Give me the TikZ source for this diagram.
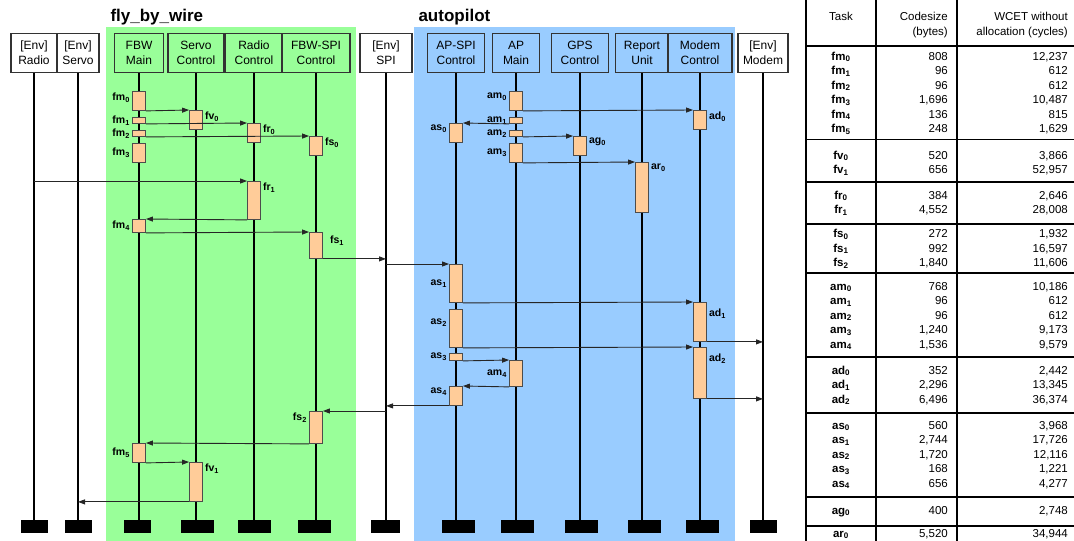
\documentclass[tikz,border=0pt]{standalone}
\usepackage{fontspec}
\setmainfont{Liberation Sans}
\usetikzlibrary{arrows.meta, positioning}

\definecolor{fbwgreen}{HTML}{99FF99}
\definecolor{apblue}{HTML}{99CCFF}
\definecolor{taskfill}{HTML}{FFCC99}
\definecolor{edge}{HTML}{333333}

\tikzset{
  hdr/.style={draw=edge, line width=1.2pt, minimum height=39pt, inner sep=0pt,
    align=center, anchor=north, font=\fontsize{12}{15}\selectfont},
  envhdr/.style={hdr, fill=white},
  fbwhdr/.style={hdr, fill=fbwgreen},
  aphdr/.style={hdr, fill=apblue},
  lifeend/.style={fill=black, minimum height=13pt, inner sep=0pt, anchor=north},
  life/.style={line width=2pt},
  act/.style={draw=black!70, fill=taskfill, line width=0.9pt, minimum width=13pt,
    inner sep=0pt, anchor=north},
  lbl/.style={font=\fontsize{10.5}{12}\selectfont\bfseries, inner sep=2pt},
  msg/.style={draw=black!85, line width=0.9pt, -{Triangle[length=7pt,width=5pt]}},
  grouptitle/.style={anchor=base west, font=\fontsize{17}{20}\selectfont\bfseries},
  tblline/.style={line width=1.2pt},
  tbltxt/.style={font=\fontsize{11.5}{14}\selectfont, inner sep=0pt,
    text height=8.5pt, text depth=2.5pt},
  tbltask/.style={tbltxt, font=\fontsize{11.5}{14}\selectfont\bfseries}
}

\begin{document}
\begin{tikzpicture}[x=1pt, y=-1pt]
\useasboundingbox (0,0) rectangle (1074,541);

% the two partitions
\fill[fbwgreen] (106,27) rectangle (356,541);
\fill[apblue] (414,27) rectangle (735,541);
\node[grouptitle] (fbwtitle) at (107,21) {fly\_by\_wire};
\node[grouptitle] (aptitle) at (415,21) {autopilot};

% lifeline heads
\node[envhdr, minimum width=46pt] (eradio) at (34,33) {[Env]\\Radio};
\node[envhdr, minimum width=42pt] (eservo) at (78,33) {[Env]\\Servo};
\node[fbwhdr, minimum width=49pt] (fbwmain) at (139,33) {FBW\\Main};
\node[fbwhdr, minimum width=56pt] (servo) at (196,33) {Servo\\Control};
\node[fbwhdr, minimum width=57pt] (radio) at (254,33) {Radio\\Control};
\node[fbwhdr, minimum width=68pt] (fbwspi) at (316,33) {FBW-SPI\\Control};
\node[envhdr, minimum width=52pt] (espi) at (386,33) {[Env]\\SPI};
\node[aphdr, minimum width=57pt] (apspi) at (456,33) {AP-SPI\\Control};
\node[aphdr, minimum width=47pt] (apmain) at (516,33) {AP\\Main};
\node[aphdr, minimum width=57pt] (gps) at (580,33) {GPS\\Control};
\node[aphdr, minimum width=53pt] (report) at (642,33) {Report\\Unit};
\node[aphdr, minimum width=64pt] (modem) at (700,33) {Modem\\Control};
\node[envhdr, minimum width=50pt] (emodem) at (763,33) {[Env]\\Modem};

% lifeline ends
\node[lifeend, minimum width=27pt] (eradio-b) at (34,520) {};
\node[lifeend, minimum width=27pt] (eservo-b) at (78,520) {};
\node[lifeend, minimum width=27pt] (fbwmain-b) at (137,520) {};
\node[lifeend, minimum width=33pt] (servo-b) at (197,520) {};
\node[lifeend, minimum width=33pt] (radio-b) at (254,520) {};
\node[lifeend, minimum width=33pt] (fbwspi-b) at (314,520) {};
\node[lifeend, minimum width=29pt] (espi-b) at (385,520) {};
\node[lifeend, minimum width=33pt] (apspi-b) at (458,520) {};
\node[lifeend, minimum width=33pt] (apmain-b) at (517,520) {};
\node[lifeend, minimum width=33pt] (gps-b) at (581,520) {};
\node[lifeend, minimum width=33pt] (report-b) at (644,520) {};
\node[lifeend, minimum width=33pt] (modem-b) at (702,520) {};
\node[lifeend, minimum width=27pt] (emodem-b) at (763,520) {};

\foreach \n in {eradio,eservo,fbwmain,servo,radio,fbwspi,espi,apspi,apmain,gps,report,modem,emodem}
  \draw[life] (\n.south) -- (\n.south |- \n-b.north);

% fly_by_wire tasks
\node[act, minimum height=19pt, label={[lbl,anchor=north east]north west:fm\textsubscript{0}}] (fm0) at (fbwmain |- 0,91) {};
\node[act, minimum height=6pt, label={[lbl]left:fm\textsubscript{1}}] (fm1) at (fbwmain |- 0,117) {};
\node[act, minimum height=6pt, label={[lbl]left:fm\textsubscript{2}}] (fm2) at (fbwmain |- 0,130) {};
\node[act, minimum height=19pt, label={[lbl]left:fm\textsubscript{3}}] (fm3) at (fbwmain |- 0,143) {};
\node[act, minimum height=13pt, label={[lbl]left:fm\textsubscript{4}}] (fm4) at (fbwmain |- 0,219) {};
\node[act, minimum height=19pt, label={[lbl]left:fm\textsubscript{5}}] (fm5) at (fbwmain |- 0,443) {};
\node[act, minimum height=19pt, label={[lbl,anchor=north west]north east:fv\textsubscript{0}}] (fv0) at (servo |- 0,110) {};
\node[act, minimum height=39pt, label={[lbl,anchor=north west]north east:fv\textsubscript{1}}] (fv1) at (servo |- 0,462) {};
\node[act, minimum height=19pt, label={[lbl,anchor=north west]north east:fr\textsubscript{0}}] (fr0) at (radio |- 0,123) {};
\node[act, minimum height=38pt, label={[lbl,anchor=north west]north east:fr\textsubscript{1}}] (fr1) at (radio |- 0,181) {};
\node[act, minimum height=19pt, label={[lbl,anchor=north west]north east:fs\textsubscript{0}}] (fs0) at (fbwspi |- 0,136) {};
\node[act, minimum height=26pt, label={[lbl,anchor=north west,xshift=5pt,yshift=-2pt]north east:fs\textsubscript{1}}] (fs1) at (fbwspi |- 0,232) {};
\node[act, minimum height=32pt, label={[lbl,anchor=north east]north west:fs\textsubscript{2}}] (fs2) at (fbwspi |- 0,411) {};

% autopilot tasks
\node[act, minimum height=19pt, label={[lbl,anchor=north east]north west:am\textsubscript{0}}] (am0) at (apmain |- 0,91) {};
\node[act, minimum height=6pt, label={[lbl]left:am\textsubscript{1}}] (am1) at (apmain |- 0,117) {};
\node[act, minimum height=6pt, label={[lbl]left:am\textsubscript{2}}] (am2) at (apmain |- 0,130) {};
\node[act, minimum height=19pt, label={[lbl]left:am\textsubscript{3}}] (am3) at (apmain |- 0,143) {};
\node[act, minimum height=26pt, label={[lbl]left:am\textsubscript{4}}] (am4) at (apmain |- 0,360) {};
\node[act, minimum height=19pt, label={[lbl,anchor=north east]north west:as\textsubscript{0}}] (as0) at (apspi |- 0,123) {};
\node[act, minimum height=38pt, label={[lbl]left:as\textsubscript{1}}] (as1) at (apspi |- 0,264) {};
\node[act, minimum height=38pt, label={[lbl,yshift=6pt]left:as\textsubscript{2}}] (as2) at (apspi |- 0,309) {};
\node[act, minimum height=7pt, label={[lbl]left:as\textsubscript{3}}] (as3) at (apspi |- 0,353) {};
\node[act, minimum height=19pt, label={[lbl,anchor=north east]north west:as\textsubscript{4}}] (as4) at (apspi |- 0,386) {};
\node[act, minimum height=19pt, label={[lbl,anchor=north west]north east:ad\textsubscript{0}}] (ad0) at (modem |- 0,110) {};
\node[act, minimum height=39pt, label={[lbl,anchor=north west,yshift=-5pt]north east:ad\textsubscript{1}}] (ad1) at (modem |- 0,302) {};
\node[act, minimum height=51pt, label={[lbl,anchor=north west,yshift=-5pt]north east:ad\textsubscript{2}}] (ad2) at (modem |- 0,347) {};
\node[act, minimum height=19pt, label={[lbl,anchor=north west]north east:ag\textsubscript{0}}] (ag0) at (gps |- 0,136) {};
\node[act, minimum height=50pt, label={[lbl,anchor=north west]north east:ar\textsubscript{0}}] (ar0) at (report |- 0,162) {};

% messages
\draw[msg] (fm0.south east) -- (fv0.north west);
\draw[msg] (fm1.south east) -- (fr0.north west);
\draw[msg] (fm2.south east) -- (fs0.north west);
\draw[msg] (fr1.north west -| eradio) -- (fr1.north west);
\draw[msg] (fr1.south west) -- (fm4.north east);
\draw[msg] (fm4.south east) -- (fs1.north west);
\draw[msg] (fs1.south east) -- (fs1.south east -| espi);
\draw[msg] (as1.north west -| espi) -- (as1.north west);
\draw[msg] (as4.south west) -- (as4.south west -| espi);
\draw[msg] (fs2.north east -| espi) -- (fs2.north east);
\draw[msg] (fs2.south west) -- (fm5.north east);
\draw[msg] (fm5.south east) -- (fv1.north west);
\draw[msg] (fv1.south west) -- (fv1.south west -| eservo);
\draw[msg] (am0.south east) -- (ad0.north west);
\draw[msg] (am1.south west) -- (as0.north east);
\draw[msg] (am2.south east) -- (ag0.north west);
\draw[msg] (am3.south east) -- (ar0.north west);
\draw[msg] (as1.south east) -- (ad1.north west);
\draw[msg] (as2.south east) -- (ad2.north west);
\draw[msg] (ad1.south east) -- (ad1.south east -| emodem);
\draw[msg] (ad2.south east) -- (ad2.south east -| emodem);
\draw[msg] (as3.south east) -- (am4.north west);
\draw[msg] (am4.south west) -- (as4.north east);

% table
\draw[tblline] (806,0) -- (806,541);
\draw[tblline] (876,0) -- (876,541);
\draw[tblline] (957,0) -- (957,541);
\draw[line width=2pt] (806,45.5) -- (1074,45.5);
\foreach \yy in {139.5,182,224,273,357,413,497,526}
  \draw[tblline] (806,\yy) -- (1074,\yy);

\node[tbltxt] (th-task) at (841,17) {Task};
\node[tbltxt, anchor=east] (th-cs1) at (948,17) {Codesize};
\node[tbltxt, anchor=east] (th-cs2) at (948,32) {(bytes)};
\node[tbltxt, anchor=east] (th-wc1) at (1068,17) {WCET without};
\node[tbltxt, anchor=east] (th-wc2) at (1068,32) {allocation (cycles)};

\foreach \tk/\ix/\cs/\wc/\yy in {
    fm/0/808/{12,237}/57, fm/1/96/612/71.5, fm/2/96/612/86,
    fm/3/{1,696}/{10,487}/100.5, fm/4/136/815/115, fm/5/248/{1,629}/129.5,
    fv/0/520/{3,866}/156, fv/1/656/{52,957}/170.5,
    fr/0/384/{2,646}/196, fr/1/{4,552}/{28,008}/210.5,
    fs/0/272/{1,932}/234.5, fs/1/992/{16,597}/249, fs/2/{1,840}/{11,606}/263.5,
    am/0/768/{10,186}/287, am/1/96/612/301.5, am/2/96/612/316,
    am/3/{1,240}/{9,173}/330.5, am/4/{1,536}/{9,579}/345,
    ad/0/352/{2,442}/371, ad/1/{2,296}/{13,345}/385.5, ad/2/{6,496}/{36,374}/400,
    as/0/560/{3,968}/426, as/1/{2,744}/{17,726}/440.5, as/2/{1,720}/{12,116}/455,
    as/3/168/{1,221}/469.5, as/4/656/{4,277}/484,
    ag/0/400/{2,748}/511,
    ar/0/{5,520}/{34,944}/534}{
  \node[tbltask] (t-\tk\ix) at (841,\yy) {\tk\textsubscript{\ix}};
  \node[tbltxt, anchor=east] (c-\tk\ix) at (948,\yy) {\cs};
  \node[tbltxt, anchor=east] (w-\tk\ix) at (1068,\yy) {\wc};
}
\end{tikzpicture}
\end{document}
